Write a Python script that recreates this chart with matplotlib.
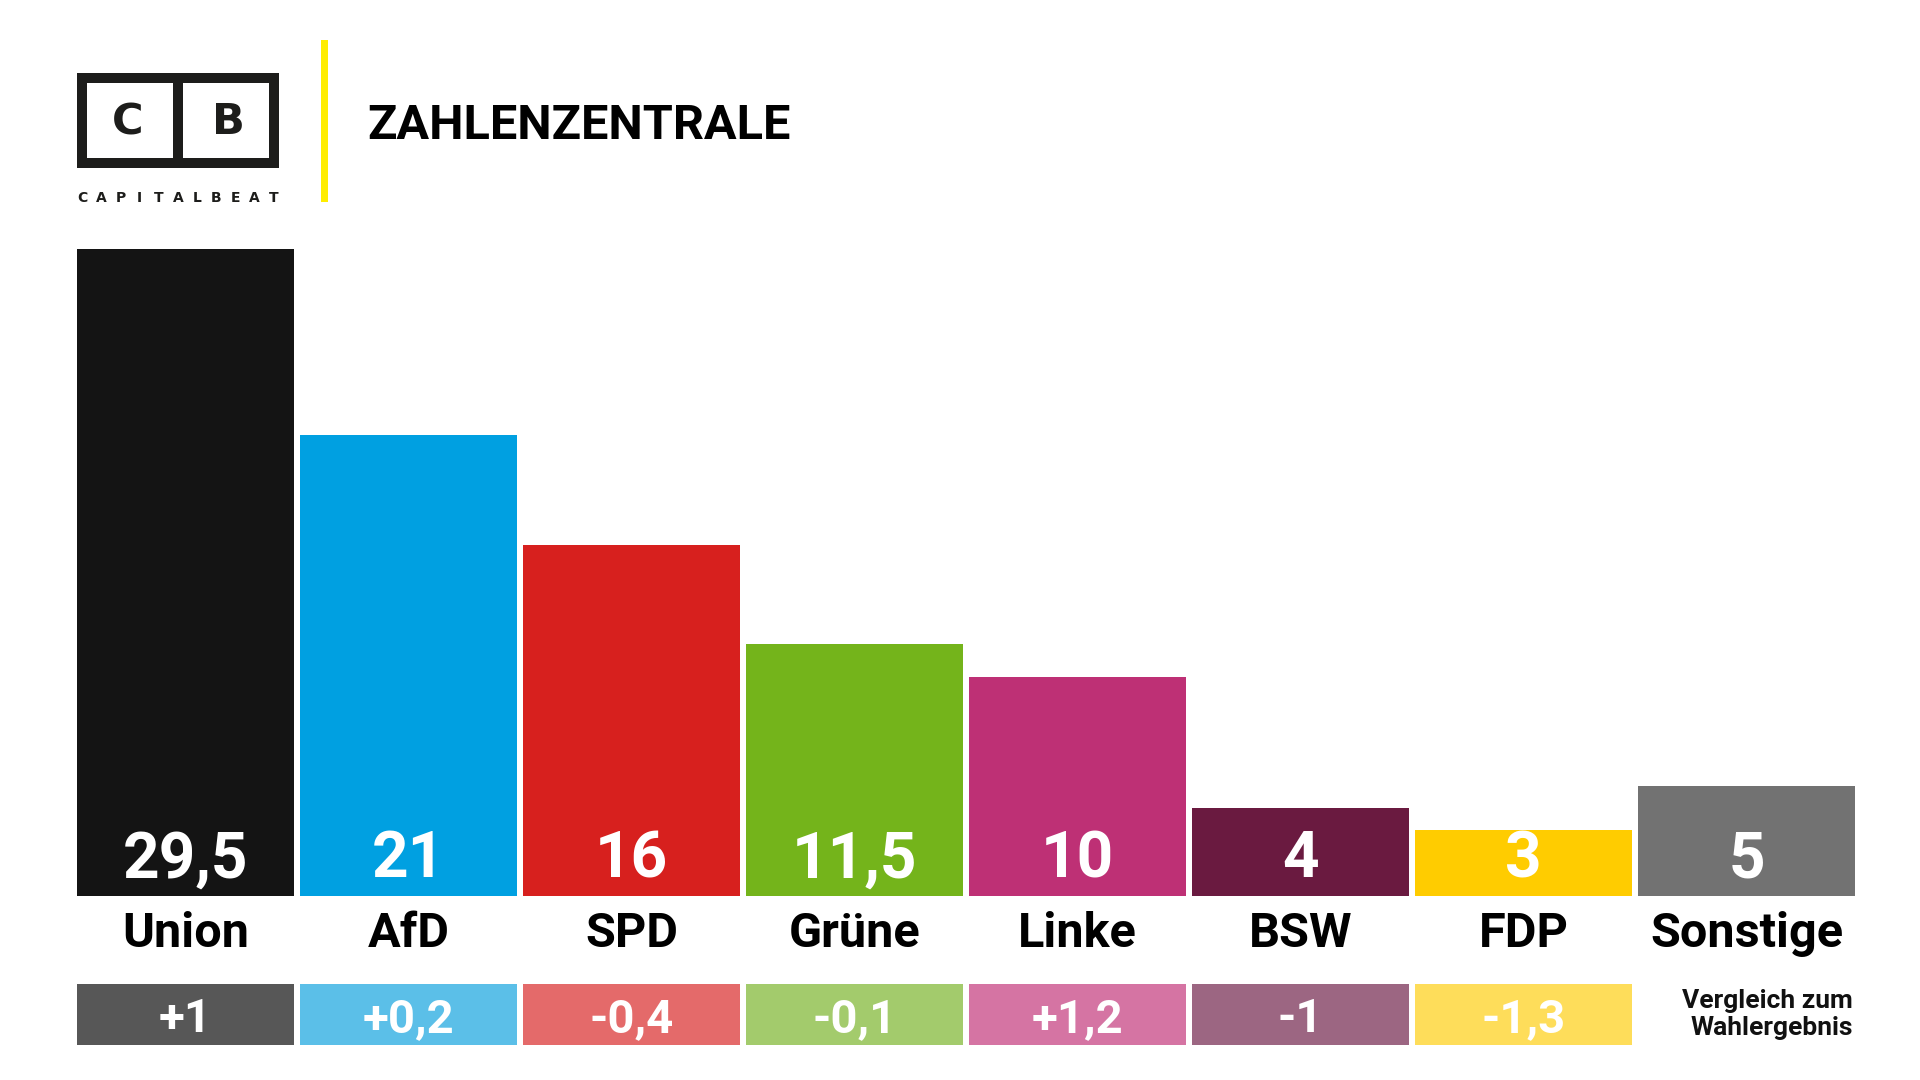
import matplotlib
matplotlib.use("Agg")
from matplotlib import pyplot as plt
from matplotlib.patches import Rectangle

parties = ["Union", "AfD", "SPD", "Grüne", "Linke", "BSW", "FDP", "Sonstige"]
values = [29.5, 21, 16, 11.5, 10, 4, 3, 5]
value_labels = ["29,5", "21", "16", "11,5", "10", "4", "3", "5"]
diff_labels = ["+1", "+0,2", "-0,4", "-0,1", "+1,2", "-1", "-1,3"]

bar_colors = ["#141414", "#00A0E1", "#D7201E", "#74B41B",
              "#BE3075", "#6A1A40", "#FFCC00", "#727272"]
diff_colors = ["#575757", "#5BBFE8", "#E46A6A", "#A3CB6C",
               "#D574A3", "#9C6682", "#FEDD5A"]

FONT = ["Roboto", "DejaVu Sans"]
plt.rcParams["font.family"] = FONT

W, H = 1920, 1080
fig = plt.figure(figsize=(19.2, 10.8), dpi=100)
fig.patch.set_facecolor("white")

# layout in pixels
left_px, step_px, bar_px = 77, 223, 217
bar_w = bar_px / step_px
n = len(parties)
span_px = (n - 1) * step_px + bar_px
bottom_px, top_px = 896, 249

ax = fig.add_axes([left_px / W, 1 - bottom_px / H, span_px / W, (bottom_px - top_px) / H])
ax.bar(range(n), values, width=bar_w, color=bar_colors)
ax.set_xlim(-bar_w / 2, n - 1 + bar_w / 2)
ax.set_ylim(0, values[0])
ax.axis("off")

for i, (lab, name) in enumerate(zip(value_labels, parties)):
    ax.annotate(lab, xy=(i, 0), xytext=(0, 26), textcoords="offset points",
                ha="center", va="center", color="white", fontsize=46,
                fontweight="bold", annotation_clip=False)
    ax.annotate(name, xy=(i, 0), xytext=(0, -27.5), textcoords="offset points",
                ha="center", va="center", color="black", fontsize=35,
                fontweight="bold", annotation_clip=False)

# comparison row
d_top, d_bot = 984, 1045
ax2 = fig.add_axes([left_px / W, 1 - d_bot / H, span_px / W, (d_bot - d_top) / H])
ax2.bar(range(len(diff_labels)), [1] * len(diff_labels), width=bar_w, color=diff_colors)
ax2.set_xlim(-bar_w / 2, n - 1 + bar_w / 2)
ax2.set_ylim(0, 1)
ax2.axis("off")
for i, lab in enumerate(diff_labels):
    ax2.text(i, 0.43, lab, ha="center", va="center", color="white",
             fontsize=34, fontweight="bold")
ax2.text(n - 1 + bar_w / 2 - 0.01, 0.5, "Vergleich zum\nWahlergebnis", ha="right",
         va="center", fontsize=19, fontweight="bold", color="#111111",
         linespacing=1.15)

# header: logo, yellow rule, title
hd = fig.add_axes([0, 0, 1, 1])
hd.set_xlim(0, W)
hd.set_ylim(H, 0)
hd.axis("off")
hd.set_zorder(-1)

lx0, lx1, ly0, ly1, bw = 77, 279, 73, 168, 10
hd.add_patch(Rectangle((lx0, ly0), lx1 - lx0, ly1 - ly0, facecolor="#1d1d1b"))
mid = (lx0 + lx1) / 2
hd.add_patch(Rectangle((lx0 + bw, ly0 + bw), mid - bw / 2 - lx0 - bw, ly1 - ly0 - 2 * bw,
                       facecolor="white"))
hd.add_patch(Rectangle((mid + bw / 2, ly0 + bw), lx1 - bw - mid - bw / 2, ly1 - ly0 - 2 * bw,
                       facecolor="white"))
hd.text((lx0 + mid) / 2, (ly0 + ly1) / 2 + 2, "C", ha="center", va="center",
        fontsize=31, fontweight="heavy", color="#1d1d1b", family="DejaVu Sans")
hd.text((mid + lx1) / 2, (ly0 + ly1) / 2 + 2, "B", ha="center", va="center",
        fontsize=31, fontweight="heavy", color="#1d1d1b", family="DejaVu Sans")
brand = "CAPITALBEAT"
for k, ch in enumerate(brand):
    x = lx0 + 5 + k * (lx1 - lx0 - 10) / (len(brand) - 1)
    hd.text(x, 198, ch, ha="center", va="center", fontsize=10, fontweight="heavy",
            color="#1d1d1b", family="DejaVu Sans")

hd.add_patch(Rectangle((321, 40), 7, 162, facecolor="#FFED00"))
hd.text(367, 126, "ZAHLENZENTRALE", ha="left", va="center", fontsize=35,
        fontweight="bold", color="black")

fig.savefig("out.png", dpi=100, facecolor="white")
